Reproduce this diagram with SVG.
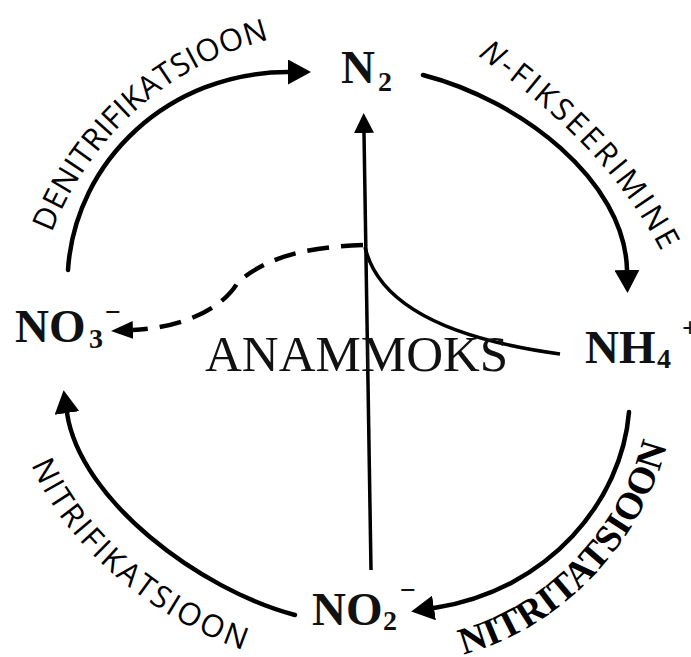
<svg xmlns="http://www.w3.org/2000/svg" width="691" height="657" viewBox="0 0 691 657">
<style>
.arc{fill:none;stroke:#000;stroke-width:4.5;stroke-linecap:round}
.ln{fill:none;stroke:#000;stroke-width:3.5}
.dash{fill:none;stroke:#000;stroke-width:4.5;stroke-dasharray:22 12}
.chem{font-family:"Liberation Serif","Times New Roman",serif;font-weight:bold;font-size:47px;fill:#111}
.sub{font-size:28px}
.proc{font-family:"Open Sans","Noto Sans",sans-serif;font-size:31px;fill:#000}
.procb{font-family:"Liberation Serif","Times New Roman",serif;font-weight:bold;font-size:38px;fill:#000}
.ana{font-family:"Liberation Serif","Times New Roman",serif;font-size:51px;fill:#111}
</style>
<defs>
<marker id="ahL" viewBox="0 0 23 25" refX="0" refY="12.5" markerWidth="23" markerHeight="25" markerUnits="userSpaceOnUse" orient="auto"><path d="M0,0 L23,12.5 L0,25 z" fill="#000"/></marker>
<marker id="ahM" viewBox="0 0 20 20" refX="0" refY="10" markerWidth="20" markerHeight="20" markerUnits="userSpaceOnUse" orient="auto"><path d="M0,0 L20,10 L0,20 z" fill="#000"/></marker>
<marker id="ahS" viewBox="0 0 22 18" refX="0" refY="9" markerWidth="22" markerHeight="18" markerUnits="userSpaceOnUse" orient="auto"><path d="M0,0 L22,9 L0,18 z" fill="#000"/></marker>
<path id="tp1" d="M42,262 C67,170 148,58 300,33"/>
<path id="tp2" d="M450,36 C525,88 627,163 677,285"/>
<path id="tp3" d="M20,420 C33,532 170,642 290,662"/>
<path id="tp4" d="M418,662 C560,652 667,520 674,400"/>
</defs>

<g id="connectors">
<path id="denitrification" class="arc" d="M68,270 C75,160 170,72 288,72" marker-end="url(#ahL)"/>
<path id="fixation" class="arc" d="M423,75 C520,100 625,180 627,270" marker-end="url(#ahL)"/>
<path id="nitritation" class="arc" d="M629,412 C622,500 550,590 434,608" marker-end="url(#ahL)"/>
<path id="nitrification" class="arc" d="M295,615 C200,590 80,500 67,413" marker-end="url(#ahL)"/>
<path id="anammox-up" class="ln" d="M371,570 L364,133" marker-end="url(#ahM)"/>
<path id="anammox-nh4" class="ln" d="M365,247 C375,290 420,335 560,354"/>
<path id="anammox-no3" class="dash" d="M363,245 C310,247 270,255 238,282 C222,310 180,328 133,330" marker-end="url(#ahS)"/>
</g>

<g id="labels">
<text class="proc" letter-spacing="0.5"><textPath href="#tp1" startOffset="50%" text-anchor="middle">DENITRIFIKATSIOON</textPath></text>
<text class="proc" letter-spacing="3"><textPath href="#tp2" startOffset="50%" text-anchor="middle"><tspan font-style="italic">N</tspan>-FIKSEERIMINE</textPath></text>
<text class="proc" letter-spacing="2.5"><textPath href="#tp3" startOffset="50%" text-anchor="middle">NITRIFIKATSIOON</textPath></text>
<text class="procb"><textPath href="#tp4" startOffset="50%" text-anchor="middle">NITRITATSIOON</textPath></text>
<text id="anammox" class="ana" x="205" y="371">ANAMMOKS</text>
</g>

<g id="n2"><text class="chem" x="341" y="83">N<tspan class="sub" x="378" y="91">2</tspan></text></g>
<g id="no3"><text class="chem" x="15" y="342">NO<tspan class="sub" x="89" y="348">3</tspan><tspan class="sub" x="105" y="321">−</tspan></text></g>
<g id="nh4"><text class="chem" x="585" y="363">NH<tspan class="sub" x="657" y="368">4</tspan><tspan class="sub" x="682" y="337">+</tspan></text></g>
<g id="no2"><text class="chem" x="312" y="625">NO<tspan class="sub" x="383" y="630">2</tspan><tspan class="sub" x="400" y="599">−</tspan></text></g>
</svg>
